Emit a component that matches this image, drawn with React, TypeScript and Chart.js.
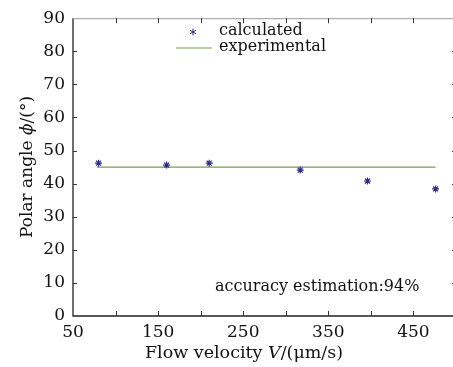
import React, { useEffect, useRef } from "react";
import { Chart, registerables } from "chart.js";

Chart.register(...registerables);

const velocities = [80, 160, 210, 317, 396, 476];
const calculated = [46.2, 45.6, 46.2, 44.1, 40.8, 38.4];
const experimentalX = [78, 476];
const experimentalY = [45, 45];
const xTickValues = [50, 150, 250, 350, 450];
const seriesNames = ["calculated", "experimental"];
// title pieces: [text, italic]
const xTitleParts: [string, boolean][] = [["Flow velocity ", false], ["V", true], ["/(μm/s)", false]];
const yTitleParts: [string, boolean][] = [["Polar angle ", false], ["ϕ", true], ["/(°)", false]];
const note = "accuracy estimation:94%";

const FONT = "'DejaVu Serif', serif";
const STAR = "#2e2e86";
const LINE = "#7f9c4c";

function drawParts(ctx: any, parts: [string, boolean][], cx: number, cy: number, size: number) {
  const fonts = parts.map(([, it]) => `${it ? "italic " : ""}${size}px ${FONT}`);
  let total = 0;
  const widths = parts.map(([t], i) => {
    ctx.font = fonts[i];
    const w = ctx.measureText(t).width;
    total += w;
    return w;
  });
  let x = cx - total / 2;
  ctx.textAlign = "left";
  parts.forEach(([t], i) => {
    ctx.font = fonts[i];
    ctx.fillText(t, x, cy);
    x += widths[i];
  });
}

const decorPlugin = {
  id: "decor",
  afterDraw(chart: any) {
    const ctx = chart.ctx;
    const x = chart.scales.x;
    const y = chart.scales.y;
    const a = chart.chartArea;
    ctx.save();
    // frame
    ctx.strokeStyle = "#222";
    ctx.lineWidth = 1.3;
    ctx.beginPath();
    ctx.moveTo(a.left, a.top);
    ctx.lineTo(a.left, a.bottom);
    ctx.lineTo(a.right, a.bottom);
    ctx.stroke();
    ctx.strokeStyle = "#999";
    ctx.lineWidth = 1;
    ctx.beginPath();
    ctx.moveTo(a.left, a.top + 0.5);
    ctx.lineTo(a.right, a.top + 0.5);
    ctx.moveTo(a.right - 0.5, a.top);
    ctx.lineTo(a.right - 0.5, a.bottom);
    ctx.stroke();
    // inward ticks
    ctx.strokeStyle = "#333";
    ctx.beginPath();
    for (let v = 100; v < 500; v += 50) {
      const px = Math.round(x.getPixelForValue(v)) + 0.5;
      ctx.moveTo(px, a.bottom);
      ctx.lineTo(px, a.bottom - 5);
      ctx.moveTo(px, a.top);
      ctx.lineTo(px, a.top + 5);
    }
    for (let v = 10; v < 90; v += 10) {
      const py = Math.round(y.getPixelForValue(v)) + 0.5;
      ctx.moveTo(a.left, py);
      ctx.lineTo(a.left + 4, py);
      ctx.moveTo(a.right, py);
      ctx.lineTo(a.right - 4, py);
    }
    ctx.stroke();
    // legend
    ctx.font = `16px ${FONT}`;
    ctx.fillStyle = "#111";
    ctx.textBaseline = "middle";
    ctx.textAlign = "left";
    ctx.fillText(seriesNames[0], 219, 31);
    ctx.fillText(seriesNames[1], 219, 47);
    ctx.strokeStyle = LINE;
    ctx.lineWidth = 1.2;
    ctx.beginPath();
    ctx.moveTo(176, 48);
    ctx.lineTo(212, 48);
    ctx.stroke();
    ctx.strokeStyle = STAR;
    ctx.lineWidth = 1;
    ctx.beginPath();
    const cx = 193, cy = 32, r = 3.5;
    for (let k = 0; k < 3; k++) {
      const ang = Math.PI / 2 + (k * Math.PI) / 3;
      ctx.moveTo(cx + r * Math.cos(ang), cy + r * Math.sin(ang));
      ctx.lineTo(cx - r * Math.cos(ang), cy - r * Math.sin(ang));
    }
    ctx.stroke();
    // note
    ctx.fillStyle = "#111";
    ctx.font = `16px ${FONT}`;
    ctx.fillText(note, 215, 287);
    // axis titles
    drawParts(ctx, xTitleParts, 244, 353, 17.5);
    ctx.translate(28, 167);
    ctx.rotate(-Math.PI / 2);
    drawParts(ctx, yTitleParts, 0, 0, 17);
    ctx.restore();
  },
};

export default function App() {
  const ref = useRef<HTMLCanvasElement | null>(null);
  useEffect(() => {
    document.body.style.margin = "0";
    const chart = new Chart(ref.current as HTMLCanvasElement, {
      type: "scatter",
      data: {
        datasets: [
          {
            label: seriesNames[0],
            data: velocities.map((v, i) => ({ x: v, y: calculated[i] })),
            pointStyle: "star",
            radius: 3.5,
            borderColor: STAR,
            backgroundColor: STAR,
            borderWidth: 1.2,
            showLine: false,
          },
          {
            label: seriesNames[1],
            data: experimentalX.map((v, i) => ({ x: v, y: experimentalY[i] })),
            showLine: true,
            pointRadius: 0,
            borderColor: LINE,
            borderWidth: 1.2,
          },
        ],
      },
      options: {
        animation: false,
        responsive: false,
        layout: { padding: { top: 16, right: 6, left: 0, bottom: 0 } },
        plugins: { legend: { display: false }, tooltip: { enabled: false } },
        scales: {
          x: {
            type: "linear",
            min: 50,
            max: 500,
            grid: { display: false, drawTicks: false },
            border: { display: false },
            afterBuildTicks: (s: any) => {
              s.ticks = xTickValues.map((v) => ({ value: v }));
            },
            afterFit: (s: any) => {
              s.height = 51;
            },
            ticks: {
              padding: 6,
              color: "#111",
              font: { family: FONT, size: 17 },
            },
          },
          y: {
            min: 0,
            max: 90,
            grid: { display: false, drawTicks: false },
            border: { display: false },
            afterFit: (s: any) => {
              s.width = 73;
            },
            ticks: {
              stepSize: 10,
              padding: 8,
              color: "#111",
              font: { family: FONT, size: 17 },
            },
          },
        },
      },
      plugins: [decorPlugin],
    });
    return () => chart.destroy();
  }, []);
  return (
    <div style={{ width: 453, height: 367, overflow: "hidden", background: "#fff" }}>
      <canvas ref={ref} width={462} height={367} />
    </div>
  );
}
